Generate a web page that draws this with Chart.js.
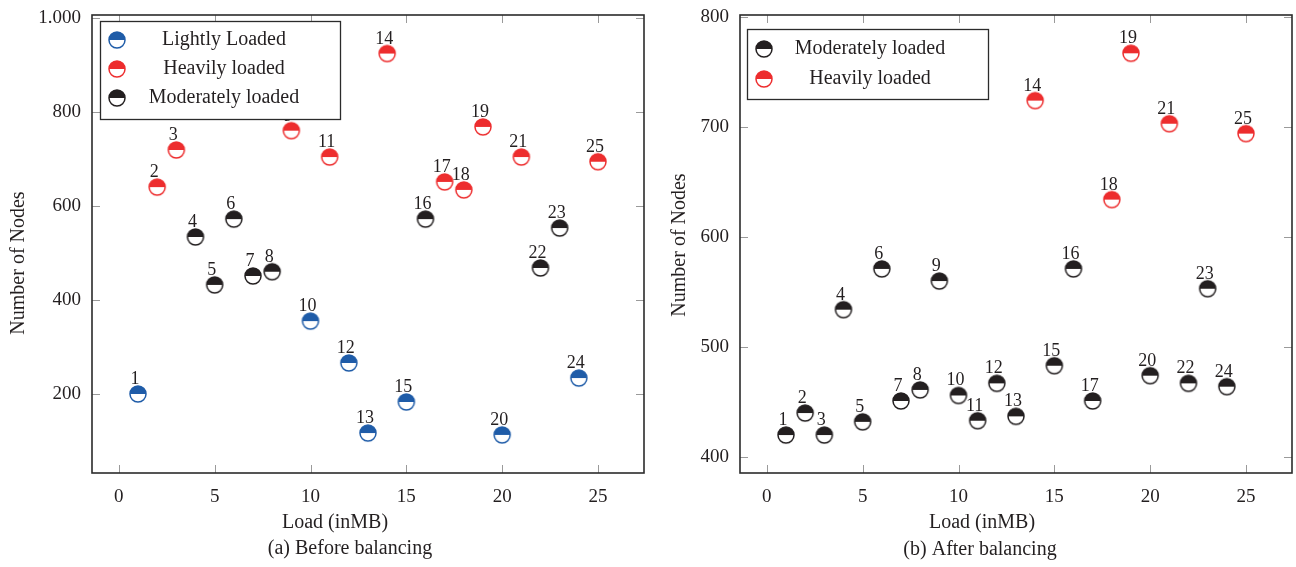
<!DOCTYPE html>
<html>
<head>
<meta charset="utf-8">
<script src="https://cdn.jsdelivr.net/npm/chart.js@4.4.1/dist/chart.umd.min.js"></script>
<style>
    body { margin: 0; background: #fff; }
    .panel { position: absolute; top: 0; width: 648px; height: 567px; }
</style>
</head>
<body>
<div class="panel" style="left:0"><canvas id="before"></canvas></div>
<div class="panel" style="left:648px"><canvas id="after"></canvas></div>
<script>
const xTicks = [0, 5, 10, 15, 20, 25];
const beforeYTicks = [200, 400, 600, 800, 1000];
const beforeYLabels = ["200", "400", "600", "800", "1.000"];
const afterYTicks = [400, 500, 600, 700, 800];
const afterYLabels = ["400", "500", "600", "700", "800"];

// (a) before balancing
const beforeLightNodes = [1, 10, 12, 13, 15, 20, 24];
const beforeLightValues = [200, 355, 266, 117, 183, 113, 234];
const beforeHeavyNodes = [2, 3, 9, 11, 14, 17, 18, 19, 21, 25];
const beforeHeavyValues = [640, 719, 760, 704, 924, 651, 634, 768, 704, 694];
const beforeModerateNodes = [4, 5, 6, 7, 8, 16, 22, 23];
const beforeModerateValues = [534, 432, 572, 451, 460, 572, 468, 553];

// (b) after balancing
const afterModerateNodes = [1, 2, 3, 4, 5, 6, 7, 8, 9, 10, 11, 12, 13, 15, 16, 17, 20, 22, 23, 24];
const afterModerateValues = [420, 440, 420, 534, 432, 571, 451, 461, 560, 456, 433, 467, 437, 483, 571, 451, 474, 467, 553, 464];
const afterHeavyNodes = [14, 18, 19, 21, 25];
const afterHeavyValues = [724, 634, 767, 703, 694];

const BLUE = "#1f5ca8";
const RED = "#ed2d2e";
const BLACK = "#231f20";
const TEXT = "#231f20";
const FONT = "'Liberation Serif', 'DejaVu Serif', serif";

// half filled circle: coloured top, white bottom
function halfMarker(color) {
    const c = document.createElement("canvas");
    c.width = 20;
    c.height = 20;
    const g = c.getContext("2d");
    g.beginPath();
    g.arc(10, 10, 8, 0, Math.PI * 2);
    g.fillStyle = "#fff";
    g.fill();
    g.beginPath();
    g.arc(10, 10, 8, Math.PI, 0);
    g.closePath();
    g.fillStyle = color;
    g.fill();
    g.beginPath();
    g.arc(10, 10, 8, 0, Math.PI * 2);
    g.lineWidth = 1.5;
    g.strokeStyle = color;
    g.stroke();
    return c;
}

function points(nodes, values) {
    return nodes.map((n, i) => ({ x: n, y: values[i] }));
}

function series(label, color, nodes, values) {
    const marker = halfMarker(color);
    return {
        label: label,
        data: points(nodes, values),
        pointStyle: marker,
        marker: marker,
        pointRadius: 9,
        showLine: false,
    };
}

function noPad(s) {
    s.paddingTop = 0;
    s.paddingBottom = 0;
    s.paddingLeft = 0;
    s.paddingRight = 0;
}

// frame plus inward tick marks on all four sides
const framePlugin = {
    id: "frame",
    afterDraw(chart) {
        const { ctx, chartArea: a, scales } = chart;
        ctx.save();
        ctx.strokeStyle = "#9a9a9a";
        ctx.lineWidth = 1;
        ctx.beginPath();
        scales.x.ticks.forEach(t => {
            const px = Math.round(scales.x.getPixelForValue(t.value)) + 0.5;
            ctx.moveTo(px, a.bottom); ctx.lineTo(px, a.bottom - 8);
            ctx.moveTo(px, a.top); ctx.lineTo(px, a.top + 8);
        });
        scales.y.ticks.forEach(t => {
            const py = Math.round(scales.y.getPixelForValue(t.value)) + 0.5;
            ctx.moveTo(a.left, py); ctx.lineTo(a.left + 8, py);
            ctx.moveTo(a.right, py); ctx.lineTo(a.right - 8, py);
        });
        ctx.stroke();
        ctx.strokeStyle = "#2b2b2b";
        ctx.lineWidth = 1.6;
        ctx.strokeRect(a.left, a.top, a.right - a.left, a.bottom - a.top);
        ctx.restore();
    }
};

// node numbers above every point
const nodeLabels = {
    id: "nodeLabels",
    afterDatasetsDraw(chart) {
        const ctx = chart.ctx;
        ctx.save();
        ctx.font = "18px " + FONT;
        ctx.fillStyle = TEXT;
        ctx.textAlign = "center";
        ctx.textBaseline = "alphabetic";
        chart.data.datasets.forEach((ds, i) => {
            chart.getDatasetMeta(i).data.forEach((pt, j) => {
                ctx.fillText(String(ds.data[j].x), pt.x - 3, pt.y - 10);
            });
        });
        ctx.restore();
    }
};

// boxed legend with centred entries, axis titles and sub caption
const decorations = {
    id: "decorations",
    afterDraw(chart, args, opts) {
        const ctx = chart.ctx;
        ctx.save();
        ctx.font = "20px " + FONT;

        const b = opts.legend;
        ctx.fillStyle = "#fff";
        ctx.fillRect(b.x, b.y, b.w, b.h);
        ctx.strokeStyle = "#2b2b2b";
        ctx.lineWidth = 1.3;
        ctx.strokeRect(b.x + 0.5, b.y + 0.5, b.w, b.h);
        ctx.textAlign = "center";
        ctx.textBaseline = "middle";
        ctx.fillStyle = TEXT;
        chart.data.datasets.forEach((ds, i) => {
            const cy = b.y + b.first + i * b.step;
            ctx.drawImage(ds.marker, b.x + 17 - 10, cy - 10);
            ctx.fillText(ds.label, b.x + b.textX, cy);
        });

        ctx.textBaseline = "alphabetic";
        ctx.fillText("Load (inMB)", opts.xTitle.x, opts.xTitle.y);
        ctx.fillText(opts.caption, opts.captionPos.x, opts.captionPos.y);

        ctx.translate(opts.yTitle.x, opts.yTitle.y);
        ctx.rotate(-Math.PI / 2);
        ctx.textBaseline = "middle";
        ctx.fillText("Number of Nodes", 0, 0);
        ctx.restore();
    }
};

function makeChart(id, datasets, yRange, yTicks, yLabels, deco) {
    return new Chart(document.getElementById(id), {
        type: "scatter",
        data: { datasets: datasets },
        plugins: [framePlugin, nodeLabels, decorations],
        options: {
            responsive: true,
            maintainAspectRatio: false,
            animation: false,
            layout: { autoPadding: false, padding: { top: 15, right: 4, left: 0, bottom: 0 } },
            plugins: {
                legend: { display: false },
                tooltip: { enabled: false },
                decorations: deco,
            },
            scales: {
                x: {
                    type: "linear",
                    min: -1.4,
                    max: 27.4,
                    afterBuildTicks: s => { s.ticks = xTicks.map(v => ({ value: v })); },
                    afterFit: s => { s.height = 94; noPad(s); },
                    grid: { display: false, drawTicks: false },
                    border: { display: false },
                    ticks: {
                        padding: 13,
                        maxRotation: 0,
                        autoSkip: false,
                        color: TEXT,
                        font: { family: FONT, size: 19 },
                    },
                },
                y: {
                    type: "linear",
                    min: yRange[0],
                    max: yRange[1],
                    afterBuildTicks: s => { s.ticks = yTicks.map(v => ({ value: v })); },
                    afterFit: s => { s.width = 92; noPad(s); },
                    grid: { display: false, drawTicks: false },
                    border: { display: false },
                    ticks: {
                        padding: 11,
                        color: TEXT,
                        font: { family: FONT, size: 19 },
                        callback: v => yLabels[yTicks.indexOf(v)],
                    },
                },
            },
        },
    });
}

makeChart("before", [
    series("Lightly Loaded", BLUE, beforeLightNodes, beforeLightValues),
    series("Heavily loaded", RED, beforeHeavyNodes, beforeHeavyValues),
    series("Moderately loaded", BLACK, beforeModerateNodes, beforeModerateValues),
], [32, 1006], beforeYTicks, beforeYLabels, {
    legend: { x: 100, y: 21, w: 240, h: 98, first: 19, step: 29, textX: 124 },
    xTitle: { x: 335, y: 528 },
    captionPos: { x: 350, y: 554 },
    yTitle: { x: 19, y: 263 },
    caption: "(a) Before balancing",
});

makeChart("after", [
    series("Moderately loaded", BLACK, afterModerateNodes, afterModerateValues),
    series("Heavily loaded", RED, afterHeavyNodes, afterHeavyValues),
], [385.5, 801.8], afterYTicks, afterYLabels, {
    legend: { x: 99, y: 29, w: 241, h: 70, first: 20, step: 30, textX: 123 },
    xTitle: { x: 334, y: 528 },
    captionPos: { x: 332, y: 555 },
    yTitle: { x: 32, y: 245 },
    caption: "(b) After balancing",
});
</script>
</body>
</html>
